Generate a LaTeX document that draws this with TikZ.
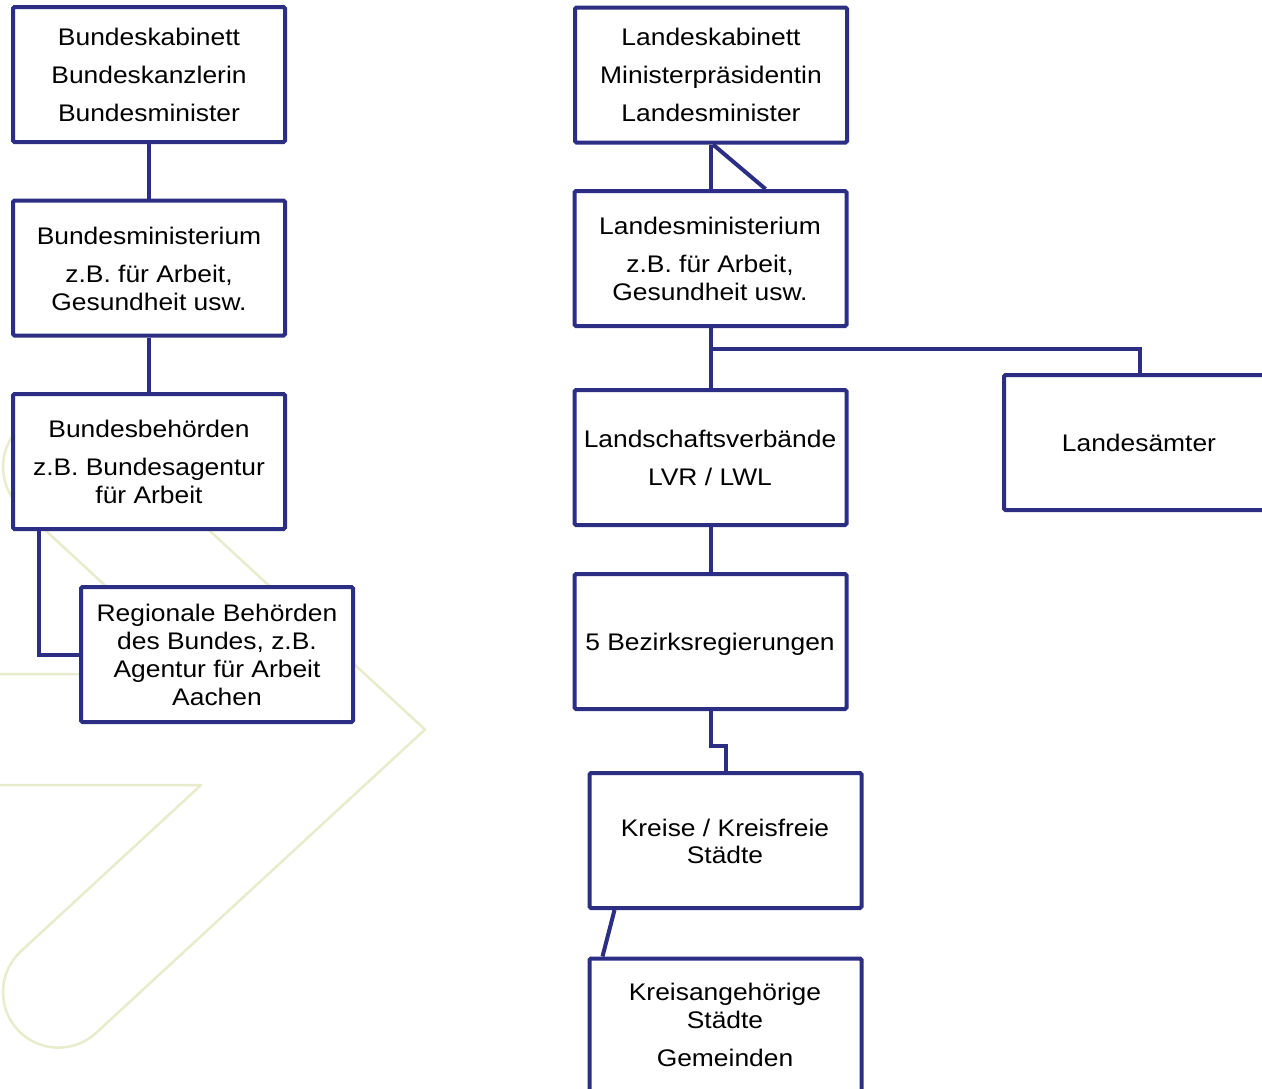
\documentclass[tikz,border=0pt]{standalone}
\usepackage{fontspec}
\setmainfont[FakeStretch=1.1]{Liberation Sans}
\definecolor{navy}{RGB}{44,46,131}
\definecolor{wmcol}{RGB}{232,236,204}
\begin{document}
\begin{tikzpicture}[x=1pt,y=-1pt,
  box/.style={draw=navy,line width=4pt,fill=white,rounded corners=1.5pt,minimum width=272pt,minimum height=135pt,inner sep=0pt},
  txt/.style={anchor=base,inner sep=0pt,font=\fontsize{24}{28}\selectfont},
  conn/.style={draw=navy,line width=4pt},
  wm/.style={draw=wmcol,line width=2.5pt,line join=round}]
\useasboundingbox (0,0) rectangle (1262,1088);
% watermark
\draw[wm] (-5,674) -- (201.1,674) -- (20.9,507.7) arc[start angle=132.7, end angle=312.7, radius=55.5]
  -- (425,729.5) -- (96.1,1032.9) arc[start angle=47.3, end angle=227.3, radius=55.5]
  -- (201.1,785) -- (-5,785);
% boxes
\node[box] (B1) at (149,74.5) {};
\node[box] (B2) at (149,268) {};
\node[box] (B3) at (149,461.5) {};
\node[box] (B4) at (217,654.5) {};
\node[box] (B5) at (711,75) {};
\node[box] (B6) at (710.5,258.5) {};
\node[box] (B7) at (710.5,457.5) {};
\node[box] (B8) at (1140,442.5) {};
\node[box] (B9) at (710.5,641.5) {};
\node[box] (B10) at (725.5,840.5) {};
\node[box] (B11) at (725.5,1026) {};
% connectors
\draw[conn] (B1.south) -- (B2.north);
\draw[conn] (B2.south) -- (B3.north);
\draw[conn] (B3.south west) ++(27.5,0) |- (B4.west);
\draw[conn] (B5.south) -- (B5.south |- B6.north);
\draw[conn] ([xshift=2pt]B5.south) -- ([xshift=55pt]B6.north);
\draw[conn] (B6.south) -- ++(0,21) coordinate (J) -| (B8.north);
\draw[conn] (J) -- (B7.north);
\draw[conn] (B7.south) -- (B9.north);
\draw[conn] (B9.south) -- ++(0,35) -| (B10.north);
\draw[conn] ([xshift=27pt]B10.south west) -- ([xshift=15pt]B11.north west);
% texts
\node[txt] (t1a) at (149,45) {Bundeskabinett};
\node[txt] (t1b) at (149,83) {Bundeskanzlerin};
\node[txt] (t1c) at (149,121) {Bundesminister};
\node[txt] (t2a) at (149,244) {Bundesministerium};
\node[txt] (t2b) at (149,282) {z.B. für Arbeit,};
\node[txt] (t2c) at (149,310) {Gesundheit usw.};
\node[txt] (t3a) at (149,437) {Bundesbehörden};
\node[txt] (t3b) at (149,475) {z.B. Bundesagentur};
\node[txt] (t3c) at (149,503) {für Arbeit};
\node[txt] (t4a) at (217,621) {Regionale Behörden};
\node[txt] (t4b) at (217,649) {des Bundes, z.B.};
\node[txt] (t4c) at (217,677) {Agentur für Arbeit};
\node[txt] (t4d) at (217,705) {Aachen};
\node[txt] (t5a) at (711,45) {Landeskabinett};
\node[txt] (t5b) at (711,83) {Ministerpräsidentin};
\node[txt] (t5c) at (711,121) {Landesminister};
\node[txt] (t6a) at (710,234) {Landesministerium};
\node[txt] (t6b) at (710,272) {z.B. für Arbeit,};
\node[txt] (t6c) at (710,300) {Gesundheit usw.};
\node[txt] (t7a) at (710,447) {Landschaftsverbände};
\node[txt] (t7b) at (710,485) {LVR / LWL};
\node[txt] (t8a) at (1139,451) {Landesämter};
\node[txt] (t9a) at (710,650) {5 Bezirksregierungen};
\node[txt] (t10a) at (725,836) {Kreise / Kreisfreie};
\node[txt] (t10b) at (725,863) {Städte};
\node[txt] (t11a) at (725,1000) {Kreisangehörige};
\node[txt] (t11b) at (725,1028) {Städte};
\node[txt] (t11c) at (725,1066) {Gemeinden};
\end{tikzpicture}
\end{document}
